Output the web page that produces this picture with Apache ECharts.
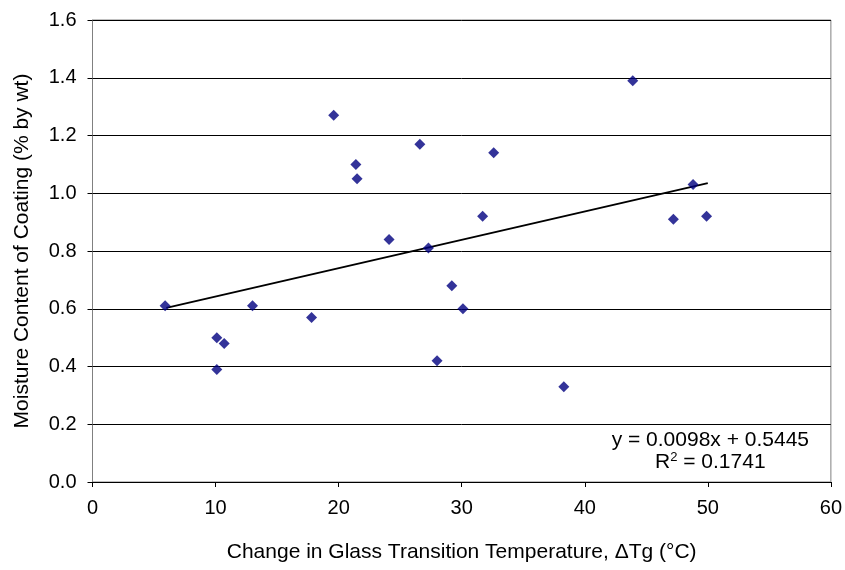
<!DOCTYPE html>
<html>
<head>
<meta charset="utf-8">
<script src="https://cdn.jsdelivr.net/npm/echarts@6/dist/echarts.min.js"></script>
<style>
  html, body { margin: 0; padding: 0; background: #fff; }
  #chart { width: 845px; height: 570px; }
</style>
</head>
<body>
<div id="chart"></div>
<script>
// change in Tg (x) vs moisture content (y)
var deltaTg = [5.9, 10.1, 10.7, 10.1, 13.0, 17.8, 19.6, 21.4, 21.5, 24.1, 26.6,
  27.3, 28.0, 29.2, 30.1, 31.7, 32.6, 38.3, 43.9, 47.2, 48.8, 49.9];
var moisture = [0.61, 0.50, 0.48, 0.39, 0.61, 0.57, 1.27, 1.10, 1.05, 0.84, 1.17,
  0.81, 0.42, 0.68, 0.60, 0.92, 1.14, 0.33, 1.39, 0.91, 1.03, 0.92];
// trendline end points
var trendX = [6, 50];
var trendY = [0.603, 1.035];
var xTicks = [0, 10, 20, 30, 40, 50, 60];
var yTicks = [0.0, 0.2, 0.4, 0.6, 0.8, 1.0, 1.2, 1.4, 1.6];

var chartDom = document.getElementById('chart');
var myChart = echarts.init(chartDom, null, { renderer: 'canvas' });

var font = 'Liberation Sans, Arial, sans-serif';
var points = deltaTg.map(function (x, i) { return [x, moisture[i]]; });
var trend = trendX.map(function (x, i) { return [x, trendY[i]]; });

var option = {
  animation: false,
  backgroundColor: '#fff',
  grid: { left: 92.5, right: 12.5, top: 20, bottom: 88, containLabel: false,
    show: true, borderColor: '#808080', borderWidth: 1 },
  xAxis: {
    type: 'value',
    min: xTicks[0],
    max: xTicks[xTicks.length - 1],
    interval: 10,
    name: 'Change in Glass Transition Temperature, \u0394Tg (\u00b0C)',
    nameLocation: 'middle',
    nameGap: 60,
    nameTextStyle: { fontFamily: font, fontSize: 21, color: '#000' },
    axisLine: { lineStyle: { color: '#000', width: 1 } },
    axisTick: { show: true, length: 5, inside: false, lineStyle: { color: '#000' } },
    axisLabel: { fontFamily: font, fontSize: 20, color: '#000', margin: 16 },
    splitLine: { show: false }
  },
  yAxis: {
    type: 'value',
    min: yTicks[0],
    max: yTicks[yTicks.length - 1],
    interval: 0.2,
    name: 'Moisture Content of Coating (% by wt)',
    nameLocation: 'middle',
    nameGap: 60,
    nameTextStyle: { fontFamily: font, fontSize: 21, color: '#000' },
    axisLine: { show: true, lineStyle: { color: '#808080', width: 1 } },
    axisTick: { show: true, length: 5, lineStyle: { color: '#000' } },
    axisLabel: {
      fontFamily: font, fontSize: 20, color: '#000', margin: 16,
      formatter: function (v) { return v.toFixed(1); }
    },
    splitLine: { show: true, lineStyle: { color: '#000', width: 1 } }
  },
  graphic: [
    {
      type: 'text', right: 36, top: 430,
      style: { text: 'y = 0.0098x + 0.5445', font: '21px ' + font, fill: '#000' }
    },
    {
      type: 'text', left: 655, top: 451,
      style: {
        text: 'R{sup|2} = 0.1741',
        font: '21px ' + font,
        fill: '#000',
        rich: {
          sup: { fontSize: 13, fontFamily: font, verticalAlign: 'top', padding: [0, 0, 10, 0] }
        }
      }
    }
  ],
  series: [
    {
      name: 'data',
      type: 'scatter',
      symbol: 'diamond',
      symbolSize: 11,
      itemStyle: { color: '#000080' },
      data: points,
      z: 3
    },
    {
      name: 'trend',
      type: 'line',
      data: trend,
      symbol: 'none',
      lineStyle: { color: '#000', width: 2 },
      z: 2
    }
  ]
};

myChart.setOption(option);
</script>
</body>
</html>
